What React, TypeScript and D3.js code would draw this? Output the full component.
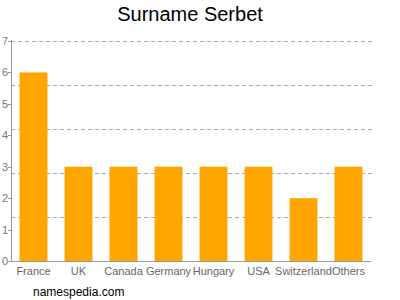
import React from "react";
import * as d3 from "d3";

const categories = ["France", "UK", "Canada", "Germany", "Hungary", "USA", "Switzerland", "Others"];
const values = [6, 3, 3, 3, 3, 3, 2, 3];
const yTicks = [0, 1, 2, 3, 4, 5, 6, 7];
const gridValues = [1.4, 2.8, 4.2, 5.6, 7];
const title = "Surname Serbet";
const footer = "namespedia.com";

export default function App() {
  const W = 400, H = 300;
  const left = 11, right = 371, top = 41, bottom = 261;
  const x = d3.scaleBand<string>().domain(categories).range([left, right]).paddingInner(0.38).paddingOuter(0.19);
  const y = d3.scaleLinear().domain([0, 7]).range([bottom, top]);
  const font = "Liberation Sans, Arial, sans-serif";
  return (
    <svg width={W} height={H} style={{ position: "absolute", left: 0, top: 0 }} fontFamily={font}>
      <rect width={W} height={H} fill="#fff" />
      <text x={190} y={21} textAnchor="middle" fontSize={20} fill="#000">{title}</text>
      {gridValues.map((g) => (
        <line key={g} x1={left} x2={right + 1} y1={Math.round(y(g)) + 0.5} y2={Math.round(y(g)) + 0.5}
          stroke="#aaa" strokeDasharray="4,3" strokeWidth={1} />
      ))}
      {categories.map((c, i) => (
        <rect key={c} x={x(c)} y={y(values[i])} width={x.bandwidth()} height={bottom - y(values[i])} fill="#FFA500" />
      ))}
      <line x1={left + 0.5} x2={left + 0.5} y1={top - 1} y2={bottom} stroke="#999" />
      <line x1={left} x2={right} y1={bottom + 0.5} y2={bottom + 0.5} stroke="#999" />
      {yTicks.map((t) => (
        <g key={t}>
          <line x1={left - 3} x2={left} y1={Math.round(y(t)) + 0.5} y2={Math.round(y(t)) + 0.5} stroke="#999" />
          <text x={left - 3} y={y(t) + 4} textAnchor="end" fontSize={11} fill="#777">{t}</text>
        </g>
      ))}
      {categories.map((c) => (
        <text key={c} x={(x(c) as number) + x.bandwidth() / 2} y={275} textAnchor="middle" fontSize={11} fill="#666">{c}</text>
      ))}
      <text x={33} y={296} fontSize={12} fill="#000">{footer}</text>
    </svg>
  );
}
